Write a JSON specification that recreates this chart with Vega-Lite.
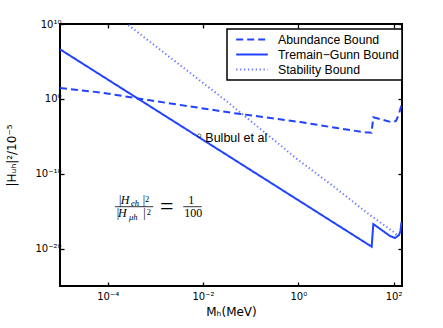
{
  "$schema": "https://vega.github.io/schema/vega-lite/v6.json",
  "width": 342,
  "height": 262,
  "autosize": "none",
  "padding": {"left": 60, "top": 24, "right": 41, "bottom": 42},
  "background": "white",
  "config": {
    "view": {"stroke": "black", "strokeWidth": 2},
    "axis": {
      "grid": false,
      "domain": false,
      "tickColor": "black",
      "tickWidth": 1.3,
      "tickSize": -4,
      "labelColor": "black",
      "labelFont": "DejaVu Sans",
      "labelFontSize": 10,
      "titleFont": "DejaVu Sans",
      "titleFontSize": 12,
      "titleFontWeight": "normal",
      "titleColor": "black"
    },
    "legend": {"strokeWidth": 1.5}
  },
  "datasets": {
    "curves": [
      {"s": "Abundance Bound", "x": 1e-5, "y": 28.2},
      {"s": "Abundance Bound", "x": 6.92e-5, "y": 7.24},
      {"s": "Abundance Bound", "x": 7.76e-4, "y": 0.631},
      {"s": "Abundance Bound", "x": 0.0427, "y": 0.0129},
      {"s": "Abundance Bound", "x": 1.096, "y": 7.94e-4},
      {"s": "Abundance Bound", "x": 6.46, "y": 1.26e-4},
      {"s": "Abundance Bound", "x": 25.1, "y": 3.39e-5},
      {"s": "Abundance Bound", "x": 34.4, "y": 2.95e-5},
      {"s": "Abundance Bound", "x": 37.5, "y": 3.47e-3},
      {"s": "Abundance Bound", "x": 91.2, "y": 7.41e-4},
      {"s": "Abundance Bound", "x": 112.2, "y": 1.1e-3},
      {"s": "Abundance Bound", "x": 129.7, "y": 9.55e-3},
      {"s": "Abundance Bound", "x": 146.2, "y": 0.151},
      {"s": "Tremain−Gunn Bound", "x": 1e-5, "y": 4.17e6},
      {"s": "Tremain−Gunn Bound", "x": 34.7, "y": 1.78e-20},
      {"s": "Tremain−Gunn Bound", "x": 37.5, "y": 1.91e-17},
      {"s": "Tremain−Gunn Bound", "x": 59.8, "y": 2.24e-18},
      {"s": "Tremain−Gunn Bound", "x": 83.9, "y": 4.79e-19},
      {"s": "Tremain−Gunn Bound", "x": 106.9, "y": 2.57e-19},
      {"s": "Tremain−Gunn Bound", "x": 129.7, "y": 6.46e-19},
      {"s": "Tremain−Gunn Bound", "x": 139.3, "y": 2.24e-18},
      {"s": "Tremain−Gunn Bound", "x": 146.2, "y": 3.55e-17},
      {"s": "Stability Bound", "x": 2.71e-4, "y": 7.41e9},
      {"s": "Stability Bound", "x": 0.029, "y": 0.708},
      {"s": "Stability Bound", "x": 1.0, "y": 6.76e-9},
      {"s": "Stability Bound", "x": 5.02, "y": 3.09e-12},
      {"s": "Stability Bound", "x": 31.9, "y": 3.02e-16},
      {"s": "Stability Bound", "x": 98.4, "y": 1.78e-18},
      {"s": "Stability Bound", "x": 117.8, "y": 6.46e-19}
    ],
    "bulbul": [{"x": 0.00838, "y": 1.2e-5, "t": "Bulbul et al"}],
    "eq": [
      {"k": "H", "x": 1.88e-4, "y": 9.02e-15, "t": "H"},
      {"k": "H", "x": 1.65e-4, "y": 1.51e-16, "t": "H"},
      {"k": "num", "x": 1.73e-4, "y": 9.02e-15, "t": "|"},
      {"k": "num", "x": 5.43e-4, "y": 9.02e-15, "t": "|"},
      {"k": "num", "x": 1.55e-4, "y": 1.51e-16, "t": "|"},
      {"k": "num", "x": 5.6e-4, "y": 1.51e-16, "t": "|"},
      {"k": "num", "x": 4.92e-3, "y": 9.02e-15, "t": "1"},
      {"k": "num", "x": 4.06e-3, "y": 1.51e-16, "t": "100"},
      {"k": "sub", "x": 3.09e-4, "y": 5.35e-15, "t": "eh"},
      {"k": "sub", "x": 2.81e-4, "y": 6.58e-17, "t": "μh"},
      {"k": "sup", "x": 6.07e-4, "y": 1.83e-14, "t": "2"},
      {"k": "sup", "x": 6.59e-4, "y": 3.06e-16, "t": "2"},
      {"k": "eq", "x": 1.25e-3, "y": 4.04e-16, "t": "="}
    ],
    "bars": [
      {"x": 1.43e-4, "x2": 9.08e-4, "y": 3.93e-15},
      {"x": 3.86e-3, "x2": 9.39e-3, "y": 3.93e-15}
    ]
  },
  "layer": [
    {
      "data": {"name": "curves"},
      "mark": {"type": "line", "clip": true, "strokeCap": "butt"},
      "encoding": {
        "x": {
          "field": "x", "type": "quantitative",
          "scale": {"type": "log", "domain": [1e-5, 150], "nice": false},
          "axis": {
            "orient": "bottom",
            "values": [1e-4, 0.01, 1, 100],
            "labelExpr": "datum.value < 1e-3 ? '10⁻⁴' : datum.value < 0.1 ? '10⁻²' : datum.value < 10 ? '10⁰' : '10²'",
            "labelPadding": 9,
            "title": "Mₕ(MeV)",
            "titlePadding": 5
          }
        },
        "y": {
          "field": "y", "type": "quantitative",
          "scale": {"type": "log", "domain": [1e-25, 1e10], "nice": false},
          "axis": {
            "orient": "left",
            "values": [1e-20, 1e-10, 1, 1e10],
            "labelExpr": "datum.value > 1e9 ? '10¹⁰' : datum.value > 0.5 ? '10⁰' : datum.value > 1e-11 ? '10⁻¹⁰' : '10⁻²⁰'",
            "labelPadding": 3,
            "title": "|Hᵤₕ|²/10⁻⁵",
            "titlePadding": 16
          }
        },
        "color": {
          "field": "s", "type": "ordinal",
          "scale": {"domain": ["Abundance Bound", "Tremain−Gunn Bound", "Stability Bound"], "range": ["#2143ff", "#2143ff", "#6a78ff"]},
          "legend": {
            "title": null, "orient": "none", "legendX": 167, "legendY": 5,
            "fillColor": "white", "strokeColor": "black", "padding": 3,
            "labelFont": "Liberation Sans", "labelFontSize": 12.3, "labelColor": "black",
            "symbolSize": 1000, "symbolOffset": 5, "labelOffset": 9, "rowPadding": 0, "clipHeight": 15
          }
        },
        "strokeDash": {
          "field": "s", "type": "ordinal",
          "scale": {"domain": ["Abundance Bound", "Tremain−Gunn Bound", "Stability Bound"], "range": [[7, 4], [1, 0], [1.3, 2.6]]},
          "legend": {
            "title": null, "orient": "none", "legendX": 167, "legendY": 5,
            "fillColor": "white", "strokeColor": "black", "padding": 3,
            "labelFont": "Liberation Sans", "labelFontSize": 12.3, "labelColor": "black",
            "symbolSize": 1000, "symbolOffset": 5, "labelOffset": 9, "rowPadding": 0, "clipHeight": 15
          }
        },
        "strokeWidth": {
          "field": "s", "type": "ordinal",
          "scale": {"domain": ["Abundance Bound", "Tremain−Gunn Bound", "Stability Bound"], "range": [2, 2, 1.3]},
          "legend": {
            "title": null, "orient": "none", "legendX": 167, "legendY": 5,
            "fillColor": "white", "strokeColor": "black", "padding": 3,
            "labelFont": "Liberation Sans", "labelFontSize": 12.3, "labelColor": "black",
            "symbolSize": 1000, "symbolOffset": 5, "labelOffset": 9, "rowPadding": 0, "clipHeight": 15
          }
        }
      }
    },
    {
      "data": {"name": "bulbul"},
      "mark": {"type": "point", "shape": "circle", "size": 12, "filled": false, "stroke": "black", "strokeWidth": 0.8},
      "encoding": {
        "x": {"field": "x", "type": "quantitative", "scale": {"type": "log", "domain": [1e-5, 150], "nice": false}, "axis": null},
        "y": {"field": "y", "type": "quantitative", "scale": {"type": "log", "domain": [1e-25, 1e10], "nice": false}, "axis": null}
      }
    },
    {
      "data": {"name": "bulbul"},
      "mark": {"type": "text", "align": "left", "baseline": "middle", "dx": 6, "dy": 2.5, "font": "Liberation Sans", "fontSize": 12.5, "color": "black"},
      "encoding": {
        "x": {"field": "x", "type": "quantitative", "scale": {"type": "log", "domain": [1e-5, 150], "nice": false},
          "axis": {"orient": "top", "values": [1e-4, 0.01, 1, 100], "labels": false, "title": null}},
        "y": {"field": "y", "type": "quantitative", "scale": {"type": "log", "domain": [1e-25, 1e10], "nice": false},
          "axis": {"orient": "right", "values": [1e-20, 1e-10, 1, 1e10], "labels": false, "title": null}},
        "text": {"field": "t"}
      }
    },
    {
      "data": {"name": "bars"},
      "mark": {"type": "rule", "color": "black", "strokeWidth": 0.8},
      "encoding": {
        "x": {"field": "x", "type": "quantitative", "scale": {"type": "log", "domain": [1e-5, 150], "nice": false}, "axis": null},
        "x2": {"field": "x2"},
        "y": {"field": "y", "type": "quantitative", "scale": {"type": "log", "domain": [1e-25, 1e10], "nice": false}, "axis": null}
      }
    },
    {
      "data": {"name": "eq"},
      "transform": [{"filter": "datum.k == 'H'"}],
      "mark": {"type": "text", "align": "left", "baseline": "alphabetic", "font": "Liberation Serif", "fontStyle": "italic", "fontSize": 12, "color": "black"},
      "encoding": {
        "x": {"field": "x", "type": "quantitative", "scale": {"type": "log", "domain": [1e-5, 150], "nice": false}, "axis": null},
        "y": {"field": "y", "type": "quantitative", "scale": {"type": "log", "domain": [1e-25, 1e10], "nice": false}, "axis": null},
        "text": {"field": "t"}
      }
    },
    {
      "data": {"name": "eq"},
      "transform": [{"filter": "datum.k == 'num'"}],
      "mark": {"type": "text", "align": "left", "baseline": "alphabetic", "font": "Liberation Serif", "fontSize": 12, "color": "black"},
      "encoding": {
        "x": {"field": "x", "type": "quantitative", "scale": {"type": "log", "domain": [1e-5, 150], "nice": false}, "axis": null},
        "y": {"field": "y", "type": "quantitative", "scale": {"type": "log", "domain": [1e-25, 1e10], "nice": false}, "axis": null},
        "text": {"field": "t"}
      }
    },
    {
      "data": {"name": "eq"},
      "transform": [{"filter": "datum.k == 'sub'"}],
      "mark": {"type": "text", "align": "left", "baseline": "alphabetic", "font": "Liberation Serif", "fontStyle": "italic", "fontSize": 8.5, "color": "black"},
      "encoding": {
        "x": {"field": "x", "type": "quantitative", "scale": {"type": "log", "domain": [1e-5, 150], "nice": false}, "axis": null},
        "y": {"field": "y", "type": "quantitative", "scale": {"type": "log", "domain": [1e-25, 1e10], "nice": false}, "axis": null},
        "text": {"field": "t"}
      }
    },
    {
      "data": {"name": "eq"},
      "transform": [{"filter": "datum.k == 'sup'"}],
      "mark": {"type": "text", "align": "left", "baseline": "alphabetic", "font": "Liberation Serif", "fontSize": 8.5, "color": "black"},
      "encoding": {
        "x": {"field": "x", "type": "quantitative", "scale": {"type": "log", "domain": [1e-5, 150], "nice": false}, "axis": null},
        "y": {"field": "y", "type": "quantitative", "scale": {"type": "log", "domain": [1e-25, 1e10], "nice": false}, "axis": null},
        "text": {"field": "t"}
      }
    },
    {
      "data": {"name": "eq"},
      "transform": [{"filter": "datum.k == 'eq'"}],
      "mark": {"type": "text", "align": "left", "baseline": "alphabetic", "font": "Liberation Serif", "fontSize": 24, "color": "black"},
      "encoding": {
        "x": {"field": "x", "type": "quantitative", "scale": {"type": "log", "domain": [1e-5, 150], "nice": false}, "axis": null},
        "y": {"field": "y", "type": "quantitative", "scale": {"type": "log", "domain": [1e-25, 1e10], "nice": false}, "axis": null},
        "text": {"field": "t"}
      }
    }
  ],
  "resolve": {"axis": {"x": "independent", "y": "independent"}}
}
